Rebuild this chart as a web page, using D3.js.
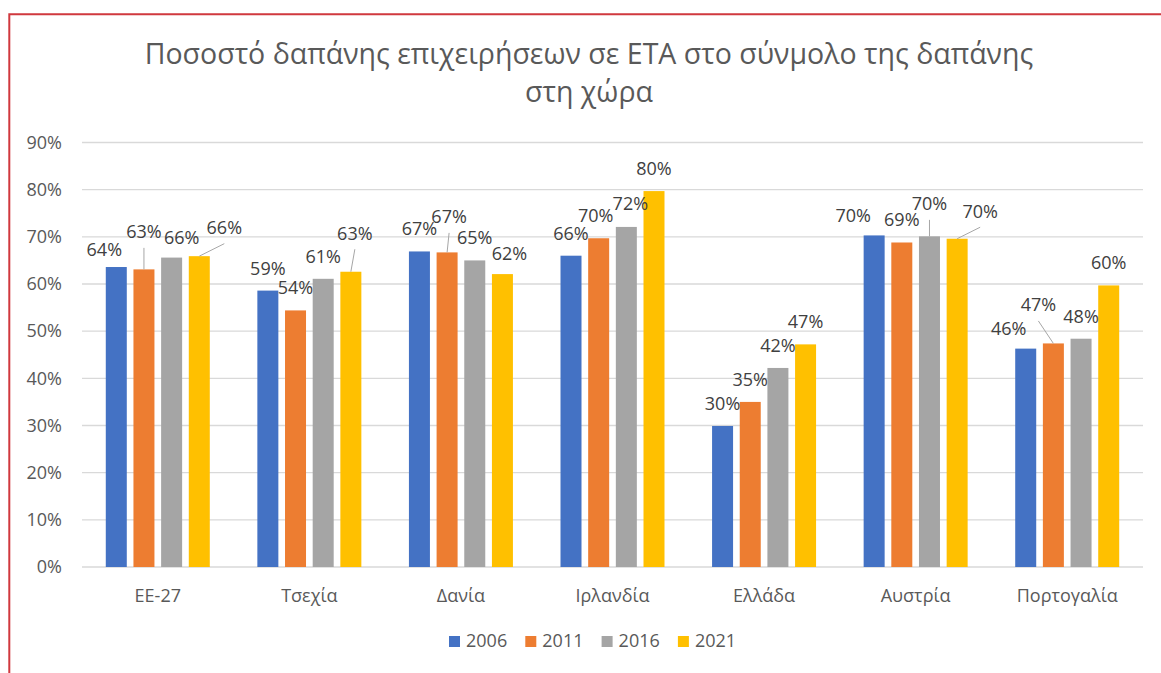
<!DOCTYPE html>
<html>
<head>
<meta charset="utf-8">
<script src="https://cdn.jsdelivr.net/npm/d3@7"></script>
<style>
  body { margin: 0; background: #fff; }
  text { font-family: "Open Sans", "Noto Sans", sans-serif; }
</style>
</head>
<body>
<svg width="1161" height="673"></svg>
<script>
const categories = ['ΕΕ-27', 'Τσεχία', 'Δανία', 'Ιρλανδία', 'Ελλάδα', 'Αυστρία', 'Πορτογαλία'];
const years = ['2006', '2011', '2016', '2021'];
const colors = ['#4472C4', '#ED7D31', '#A5A5A5', '#FFC000'];

// one row per category, one column per year (share of total spending)
const values = [
  [0.636, 0.631, 0.656, 0.659],
  [0.586, 0.544, 0.611, 0.626],
  [0.669, 0.667, 0.650, 0.621],
  [0.660, 0.697, 0.721, 0.797],
  [0.299, 0.350, 0.422, 0.472],
  [0.703, 0.688, 0.701, 0.696],
  [0.463, 0.474, 0.484, 0.597]
];

const yTicks = [0, 0.1, 0.2, 0.3, 0.4, 0.5, 0.6, 0.7, 0.8, 0.9];

// hand placed data labels: [dx, lift, leader line]
const labelNudge = [
  [[-12, -5], [0, 15, 1], [10, -2], [25, 6, 1]],
  [[0, 0], [0, 0], [0, 0], [4, 16, 1]],
  [[0, 0], [2, 13, 1], [0, 0], [7, -2]],
  [[0, 0], [-3, 0], [4, 1], [0, 0]],
  [[0, 0], [0, 0], [0, 0], [0, 0]],
  [[-21, -3], [0, 0], [0, 10, 1], [23, 5, 1]],
  [[-17, -2], [-15, 16, 1], [0, 0], [0, 0]]
];

const svg = d3.select('svg');
const width = +svg.attr('width');
const height = +svg.attr('height');

// red frame of the screenshot
svg.append('path')
  .attr('d', `M9.3,${height} V14.3 H${width}`)
  .attr('fill', 'none')
  .attr('stroke', '#d0383e')
  .attr('stroke-width', 2);

const title = svg.append('text')
  .attr('x', 589)
  .attr('text-anchor', 'middle')
  .attr('fill', '#595959')
  .attr('font-size', 28.5);
title.append('tspan').attr('x', 589).attr('y', 64)
  .text('Ποσοστό δαπάνης επιχειρήσεων σε ΕΤΑ στο σύνμολο της δαπάνης');
title.append('tspan').attr('x', 589).attr('y', 102)
  .text('στη χώρα');

const x0 = d3.scaleBand()
  .domain(categories)
  .range([82, 1143]);

const groupWidth = 104;
const x1 = d3.scaleBand()
  .domain(years)
  .range([(x0.bandwidth() - groupWidth) / 2, (x0.bandwidth() + groupWidth) / 2])
  .paddingInner(0.241);

const y = d3.scaleLinear()
  .domain([0, 0.9])
  .range([567, 142.5]);

const fmt = d3.format('.0%');

// gridlines
svg.append('g')
  .selectAll('line')
  .data(yTicks)
  .join('line')
  .attr('x1', 82)
  .attr('x2', 1143)
  .attr('y1', d => y(d))
  .attr('y2', d => y(d))
  .attr('stroke', '#d9d9d9')
  .attr('stroke-width', 1.3);

const yAxis = svg.append('g')
  .attr('transform', 'translate(62,0)')
  .call(d3.axisLeft(y).tickValues(yTicks).tickFormat(fmt).tickSize(0).tickPadding(0));
yAxis.select('.domain').remove();
yAxis.selectAll('text')
  .attr('fill', '#595959')
  .attr('font-size', 18)
  .attr('font-family', '"Open Sans", sans-serif');

const xAxis = svg.append('g')
  .attr('transform', `translate(0,${y(0)})`)
  .call(d3.axisBottom(x0).tickSize(0).tickPadding(22));
xAxis.select('.domain').remove();
xAxis.selectAll('text')
  .attr('fill', '#595959')
  .attr('font-size', 18)
  .attr('font-family', '"Open Sans", sans-serif');

const groups = svg.append('g')
  .selectAll('g')
  .data(categories)
  .join('g')
  .attr('transform', d => `translate(${x0(d)},0)`);

groups.selectAll('rect')
  .data((d, i) => values[i].map((v, j) => ({ year: years[j], v, j })))
  .join('rect')
  .attr('x', d => x1(d.year))
  .attr('width', x1.bandwidth())
  .attr('y', d => y(d.v))
  .attr('height', d => y(0) - y(d.v))
  .attr('fill', d => colors[d.j]);

// data labels and leader lines
groups.each(function (c, i) {
  const g = d3.select(this);
  values[i].forEach((v, j) => {
    const [dx, lift, leader] = labelNudge[i][j];
    const bx = x1(years[j]) + x1.bandwidth() / 2;
    const top = y(v);
    const lx = bx + dx;
    const ly = top - 16 - lift;
    if (leader) {
      g.append('line')
        .attr('x1', lx).attr('y1', ly + 9.5)
        .attr('x2', bx).attr('y2', top)
        .attr('stroke', '#a6a6a6')
        .attr('stroke-width', 1);
    }
    g.append('text')
      .attr('x', lx)
      .attr('y', ly)
      .attr('text-anchor', 'middle')
      .attr('fill', '#404040')
      .attr('font-size', 18)
      .text(fmt(v));
  });
});

// legend
const legend = svg.append('g')
  .attr('transform', 'translate(449,636)');
const item = legend.selectAll('g')
  .data(years)
  .join('g')
  .attr('transform', (d, i) => `translate(${i * 76.3},0)`);
item.append('rect')
  .attr('width', 11)
  .attr('height', 11)
  .attr('fill', (d, i) => colors[i]);
item.append('text')
  .attr('x', 17)
  .attr('y', 11)
  .attr('fill', '#595959')
  .attr('font-size', 18)
  .text(d => d);
</script>
</body>
</html>
